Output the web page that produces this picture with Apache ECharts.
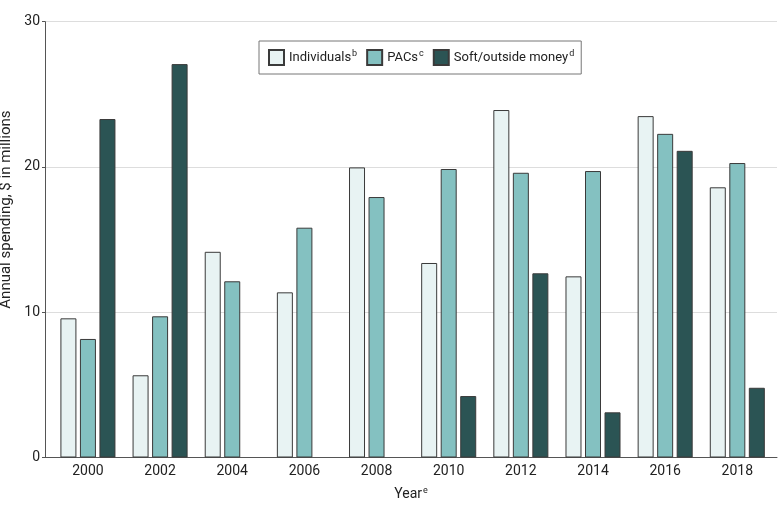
<!DOCTYPE html>
<html><head><meta charset="utf-8">
<script src="https://cdn.jsdelivr.net/npm/echarts@6/dist/echarts.min.js"></script>
<style>html,body{margin:0;padding:0;background:#fff}#c{width:780px;height:512px}</style>
</head><body><div id="c"></div>
<script>
const years = [2000, 2002, 2004, 2006, 2008, 2010, 2012, 2014, 2016, 2018];
const individuals = [9.58, 5.66, 14.16, 11.37, 19.97, 13.39, 23.92, 12.47, 23.5, 18.6];
const pacs = [8.16, 9.72, 12.13, 15.82, 17.93, 19.86, 19.6, 19.72, 22.28, 20.27];
const softMoney = [23.3, 27.08, null, null, null, 4.23, 12.68, 3.11, 21.11, 4.8];
const yTicks = [0, 10, 20, 30];
const seriesNames = ['Individuals', 'PACs', 'Soft/outside money'];
const superscripts = ['b', 'c', 'd'];
const colors = ['#e8f3f3', '#84c1c1', '#2b5454'];

const FONT = 'Roboto';
const chart = echarts.init(document.getElementById('c'), null, {renderer: 'canvas'});
const supStyle = {fontSize: 9, fontFamily: FONT, color: '#222', verticalAlign: 'top', lineHeight: 10, padding: [0, 0, 0, 1]};

function mk(name, vals, color) {
  return {
    type: 'bar', name: name,
    data: years.map((y, i) => [y, vals[i]]),
    barWidth: 16, barGap: '22%',
    itemStyle: {color: color, borderColor: '#3a3a3a', borderWidth: 1},
    emphasis: {disabled: true},
    z: 3
  };
}

chart.setOption({
  animation: false,
  textStyle: {fontFamily: FONT},
  grid: {left: 45, right: 3, top: 21.7, bottom: 54.5, containLabel: false, outerBoundsMode: 'none'},
  legend: {
    left: 259, top: 41,
    padding: [8, 7, 8, 9],
    itemWidth: 15, itemHeight: 15, itemGap: 9,
    icon: 'rect',
    borderColor: '#777', borderWidth: 1,
    data: seriesNames,
    formatter: function (n) { return n + '{sup|' + superscripts[seriesNames.indexOf(n)] + '}'; },
    textStyle: {fontSize: 13, color: '#222', fontFamily: FONT, lineHeight: 16, rich: {sup: supStyle}}
  },
  xAxis: {
    type: 'value', min: 1998.81, max: 2019.1,
    axisLine: {show: true, onZero: false, lineStyle: {color: '#555', width: 1}},
    axisTick: {show: false},
    splitLine: {show: false},
    axisLabel: {customValues: years, formatter: function (v) { return String(v); }, color: '#222', fontSize: 14, margin: 7, fontFamily: FONT},
    name: 'Year{sup|e}', nameLocation: 'middle', nameGap: 29,
    nameTextStyle: {fontSize: 14, color: '#222', fontFamily: FONT, lineHeight: 16, rich: {sup: supStyle}}
  },
  yAxis: {
    type: 'value', min: yTicks[0], max: yTicks[yTicks.length - 1], interval: 10,
    axisLine: {show: true, lineStyle: {color: '#555', width: 1}},
    axisTick: {show: true, length: 3, lineStyle: {color: '#555'}},
    splitLine: {show: true, lineStyle: {color: '#dddddd', width: 1}},
    axisLabel: {color: '#222', fontSize: 14, margin: 5, fontFamily: FONT},
    name: 'Annual spending, $ in millions', nameLocation: 'middle', nameGap: 25,
    nameTextStyle: {fontSize: 15, color: '#222', fontFamily: FONT, padding: [0, 0, 0, 60]}
  },
  series: [
    mk(seriesNames[0], individuals, colors[0]),
    mk(seriesNames[1], pacs, colors[1]),
    mk(seriesNames[2], softMoney, colors[2])
  ]
});
</script></body></html>
